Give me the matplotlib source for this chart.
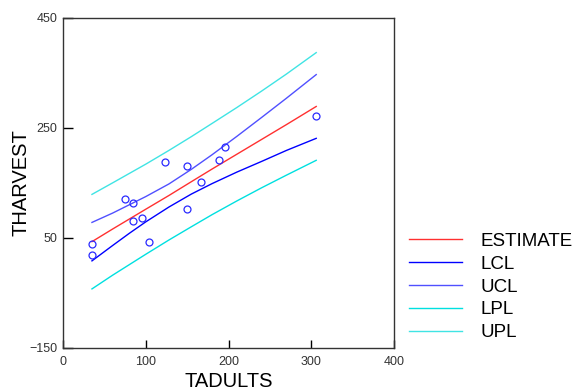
import matplotlib
matplotlib.use("Agg")
import matplotlib.pyplot as plt

# observed data
tadults = [35, 35, 75, 85, 85, 95, 104, 123, 150, 150, 167, 188, 196, 306]
tharvest = [38, 18, 121, 114, 80, 86, 43, 188, 180, 103, 151, 192, 216, 272]

# fitted lines / bands
line_x = [35, 60, 80, 100, 128, 155, 180, 210, 240, 270, 306]
estimate = [43, 66, 84, 102, 127, 152, 175, 202, 229, 256, 289]
lcl = [8, 36, 58, 79, 106, 129.5, 148.5, 169.5, 189, 209, 231]
ucl = [78, 95, 110, 125, 148, 174.5, 201, 234.5, 269, 304, 347]
lpl = [-43, -18, 1, 20, 46, 70, 92, 117, 141, 164, 191]
upl = [129, 150, 167, 184, 209, 234, 258, 287, 317, 348, 387]

xticks = [0, 100, 200, 300, 400]
yticks = [-150, 50, 250, 450]

plt.rcParams['font.family'] = ['Liberation Sans', 'DejaVu Sans']

fig = plt.figure(figsize=(5.81, 3.91), dpi=100)
ax = fig.add_axes([63/581, 1-347.7/391, 331/581, (347.7-18)/391])

h1, = ax.plot(line_x, estimate, color='#ff3030', lw=1, label='ESTIMATE')
h2, = ax.plot(line_x, lcl, color='#0000ff', lw=1, label='LCL')
h3, = ax.plot(line_x, ucl, color='#5050ff', lw=1, label='UCL')
h4, = ax.plot(line_x, lpl, color='#00e0e0', lw=1, label='LPL')
h5, = ax.plot(line_x, upl, color='#40e4e4', lw=1, label='UPL')
ax.plot(tadults, tharvest, linestyle='none', marker='o', ms=5,
        mfc='none', mec='#2a2aff', mew=0.9)

ax.set_xlim(0, 400)
ax.set_ylim(-150, 450)
ax.set_xticks(xticks)
ax.set_yticks(yticks)
ax.tick_params(axis='x', direction='in', length=6, width=1, labelsize=9,
               labelcolor='#333333', pad=6)
ax.tick_params(axis='y', direction='in', length=7, width=1, labelsize=9,
               labelcolor='#333333', pad=4)
for s in ax.spines.values():
    s.set_color('#333333')
    s.set_linewidth(1)

ax.set_xlabel('TADULTS', fontsize=14.5, labelpad=3)
ax.set_ylabel('THARVEST', fontsize=14.5, labelpad=-1)

ax.legend(handles=[h1, h2, h3, h4, h5], loc='upper left',
          bbox_to_anchor=(409/581, 1-232.5/391), bbox_transform=fig.transFigure,
          frameon=False, fontsize=13.5, handlelength=2.83, handletextpad=0.96,
          labelspacing=0.31, borderpad=0, borderaxespad=0)

fig.savefig('out.png', dpi=100)
